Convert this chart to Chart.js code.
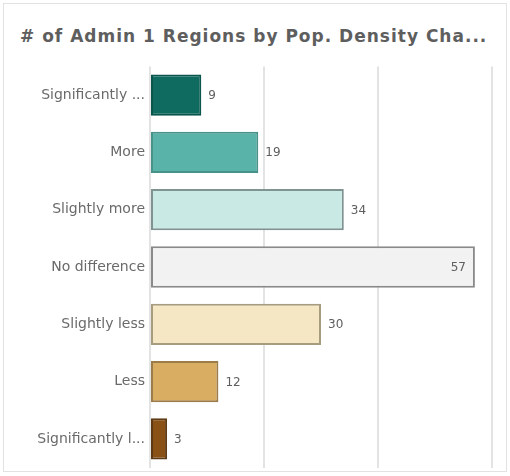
<!DOCTYPE html>
<html>
<head>
<meta charset="utf-8">
<script src="https://cdn.jsdelivr.net/npm/chart.js@4.4.1/dist/chart.umd.min.js"></script>
<style>
    body { margin: 0; background: #fff; font-family: "DejaVu Sans", sans-serif; overflow: hidden; }
    .card { position: absolute; left: 3px; top: 3px; width: 502px; height: 467px; border: 1px solid #e2e2e2; }
    .title { position: absolute; left: 20px; top: 26px; font-size: 17px; letter-spacing: 1px; font-weight: bold; color: #5e5e5e; white-space: nowrap; }
    .chart-box { position: absolute; left: 0; top: 53px; width: 510px; height: 428px; }
</style>
</head>
<body>
<div class="card"></div>
<div class="title"># of Admin 1 Regions by Pop. Density Cha...</div>
<div class="chart-box"><canvas id="chart"></canvas></div>
<script>
const categories = ['Significantly ...', 'More', 'Slightly more', 'No difference', 'Slightly less', 'Less', 'Significantly l...'];
const regionCounts = [9, 19, 34, 57, 30, 12, 3];
const fillColors = ['#0f6b5f', '#5ab3a8', '#c9e9e5', '#f2f2f2', '#f6e7c4', '#d9ad62', '#8a5116'];
const borderColors = ['#0b564c', '#47938a', '#7f9391', '#8a8a8a', '#a89c80', '#9c7c48', '#5e3a14'];
const axisTicks = [0, 20, 40, 60];

const valueLabels = {
    id: 'valueLabels',
    afterDatasetsDraw(chart) {
        const ctx = chart.ctx;
        const meta = chart.getDatasetMeta(0);
        ctx.save();
        ctx.font = '12px "DejaVu Sans", sans-serif';
        ctx.fillStyle = '#5e5e5e';
        ctx.textBaseline = 'middle';
        meta.data.forEach((bar, i) => {
            const text = String(regionCounts[i]);
            const w = ctx.measureText(text).width;
            if (bar.x + 7 + w > chart.chartArea.right) {
                ctx.textAlign = 'right';
                ctx.fillText(text, bar.x - 9, bar.y + 1);
            } else {
                ctx.textAlign = 'left';
                ctx.fillText(text, bar.x + 7, bar.y + 1);
            }
        });
        ctx.restore();
    }
};

new Chart(document.getElementById('chart'), {
    type: 'bar',
    data: {
        labels: categories,
        datasets: [{
            data: regionCounts,
            backgroundColor: fillColors,
            borderColor: borderColors,
            borderWidth: 2,
            borderSkipped: false,
            categoryPercentage: 0.72,
            barPercentage: 1
        }]
    },
    options: {
        indexAxis: 'y',
        responsive: true,
        maintainAspectRatio: false,
        animation: false,
        layout: { padding: { top: 5, bottom: 2, right: 18 } },
        plugins: { legend: { display: false }, tooltip: { enabled: false } },
        scales: {
            x: {
                min: axisTicks[0],
                max: axisTicks[axisTicks.length - 1],
                afterBuildTicks: scale => { scale.ticks = axisTicks.map(v => ({ value: v })); },
                ticks: { display: false },
                border: { display: false },
                grid: { color: '#e3e3e3', lineWidth: 2, drawTicks: false }
            },
            y: {
                afterFit: scale => { scale.width = 150; },
                grid: { display: false, drawTicks: false },
                border: { display: false },
                ticks: { color: '#6a6a6a', padding: 5, font: { size: 14, family: '"DejaVu Sans", sans-serif' } }
            }
        }
    },
    plugins: [valueLabels]
});
</script>
</body>
</html>
